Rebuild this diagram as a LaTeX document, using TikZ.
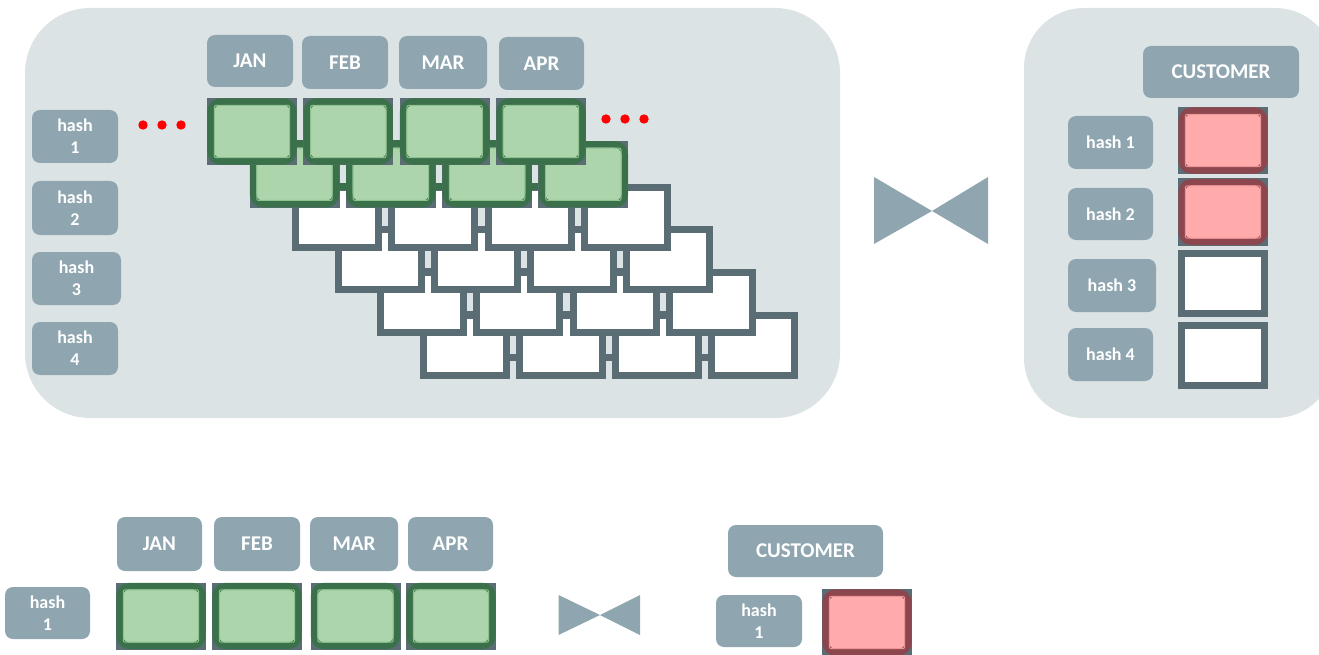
\documentclass[tikz,border=0pt]{standalone}
\usepackage{fontspec}
\setmainfont{Carlito}

\definecolor{panel}{HTML}{DCE3E5}
\definecolor{lab}{HTML}{8FA6B1}
\definecolor{frame}{HTML}{5B6D74}
\definecolor{gfill}{HTML}{ACD5AC}
\definecolor{gbd}{HTML}{3B714A}
\definecolor{gin}{HTML}{8DC28F}
\definecolor{rfill}{HTML}{FFABAB}
\definecolor{rbd}{HTML}{8C464D}
\definecolor{rin}{HTML}{EE9497}
\definecolor{dotred}{HTML}{FF0000}

\tikzset{
  lbl/.style={fill=lab, rounded corners=8, text=white, inner sep=0pt,
              font=\bfseries\fontsize{21}{25}\selectfont},
  hlbl/.style={lbl, align=center, font=\bfseries\fontsize{18}{22}\selectfont},
  bow/.style={fill=lab},
  reddot/.style={fill=dotred},
}

% one partition tile: grey backing with a rounded coloured box on top
\newcommand{\TileFilled}[5]{%
  \begin{scope}[shift={(#1,#2)}]
    \fill[frame] (0,0) rectangle (90,67);
    \draw[line width=6.5, draw=#3, fill=#4, rounded corners=10] (3.6,3.6) rectangle (86.4,63.4);
    \draw[line width=1, draw=#5, rounded corners=2] (7.3,7.3) rectangle (82.7,59.7);
  \end{scope}}
% empty partition tile: thick grey frame
\newcommand{\TileEmpty}[2]{%
  \begin{scope}[shift={(#1,#2)}]
    \fill[frame] (0,0) rectangle (90,67);
    \fill[white] (7,7) rectangle (83,60);
  \end{scope}}

\begin{document}
\begin{tikzpicture}[x=1pt, y=-1pt]
\useasboundingbox (0,0) rectangle (1319,655);
\clip (0,0) rectangle (1319,655);

% background panels
\fill[panel, rounded corners=65] (25,8) rectangle (840,418);
\fill[panel, rounded corners=60] (1024,8) rectangle (1335,418);

% stacked composite partitions (back rows first)
\foreach \r in {5,4,...,0}{
  \foreach \c in {0,1,2,3}{
    \pgfmathsetmacro\cx{207+42.5*\r+96.3*\c}
    \pgfmathsetmacro\cy{98+42.8*\r}
    \ifnum\r<2
      \TileFilled{\cx}{\cy}{gbd}{gfill}{gin}
      \ifnum\c<3 \fill[gbd] (\cx+89,\cy+42) rectangle ++(8.3,7); \fi
    \else
      \TileEmpty{\cx}{\cy}
      \ifnum\c<3 \fill[frame] (\cx+89,\cy+42) rectangle ++(8.3,7); \fi
    \fi
  }
}

% month headers
\node[lbl, minimum width=86, minimum height=52] (jan) at (250,61) {JAN};
\node[lbl, minimum width=86, minimum height=53] (feb) at (345,62.5) {FEB};
\node[lbl, minimum width=88, minimum height=53] (mar) at (443,62.5) {MAR};
\node[lbl, minimum width=85, minimum height=53] (apr) at (541.5,63.5) {APR};

% hash labels
\node[hlbl, minimum width=86, minimum height=53] (h1) at (75,136.5) {hash\\1};
\node[hlbl, minimum width=86, minimum height=54] (h2) at (75,208) {hash\\2};
\node[hlbl, minimum width=89, minimum height=53] (h3) at (76.5,278.5) {hash\\3};
\node[hlbl, minimum width=86, minimum height=53] (h4) at (75,348.5) {hash\\4};

% continuation dots
\foreach \px in {143,162,181} \fill[reddot] (\px,125) circle (4.7);
\foreach \px in {606,625,644} \fill[reddot] (\px,119) circle (4.7);

% join symbol
\fill[bow] (874,177) -- (874,244) -- (932,211) -- cycle;
\fill[bow] (988,177) -- (988,244) -- (932,211) -- cycle;

% customer table
\node[lbl, minimum width=156, minimum height=52] (cust) at (1221,72) {CUSTOMER};
\node[hlbl, minimum width=85, minimum height=53] (ch1) at (1110.5,142.5) {hash 1};
\node[hlbl, minimum width=85, minimum height=52] (ch2) at (1110.5,214) {hash 2};
\node[hlbl, minimum width=88, minimum height=53] (ch3) at (1112,285.5) {hash 3};
\node[hlbl, minimum width=85, minimum height=53] (ch4) at (1110.5,354.5) {hash 4};
\TileFilled{1178}{107}{rbd}{rfill}{rin}
\TileFilled{1178}{178.5}{rbd}{rfill}{rin}
\TileEmpty{1178}{250}
\TileEmpty{1178}{322}

% single-partition view
\node[lbl, minimum width=85, minimum height=54] (bjan) at (159.5,544) {JAN};
\node[lbl, minimum width=86, minimum height=54] (bfeb) at (257,544) {FEB};
\node[lbl, minimum width=88, minimum height=54] (bmar) at (354,544) {MAR};
\node[lbl, minimum width=85, minimum height=54] (bapr) at (450.5,544) {APR};
\node[hlbl, minimum width=85, minimum height=52] (bh1) at (47.5,613) {hash\\1};
\foreach \px in {116,212,310.5,406} \TileFilled{\px}{582.5}{gbd}{gfill}{gin};

\fill[bow] (558.5,595) -- (558.5,635) -- (600,615) -- cycle;
\fill[bow] (640,595) -- (640,635) -- (600,615) -- cycle;

\node[lbl, minimum width=155, minimum height=52] (bcust) at (805.5,551) {CUSTOMER};
\node[hlbl, minimum width=86, minimum height=52] (bch1) at (759,621) {hash\\1};
\TileFilled{822}{589}{rbd}{rfill}{rin}
\end{tikzpicture}
\end{document}
